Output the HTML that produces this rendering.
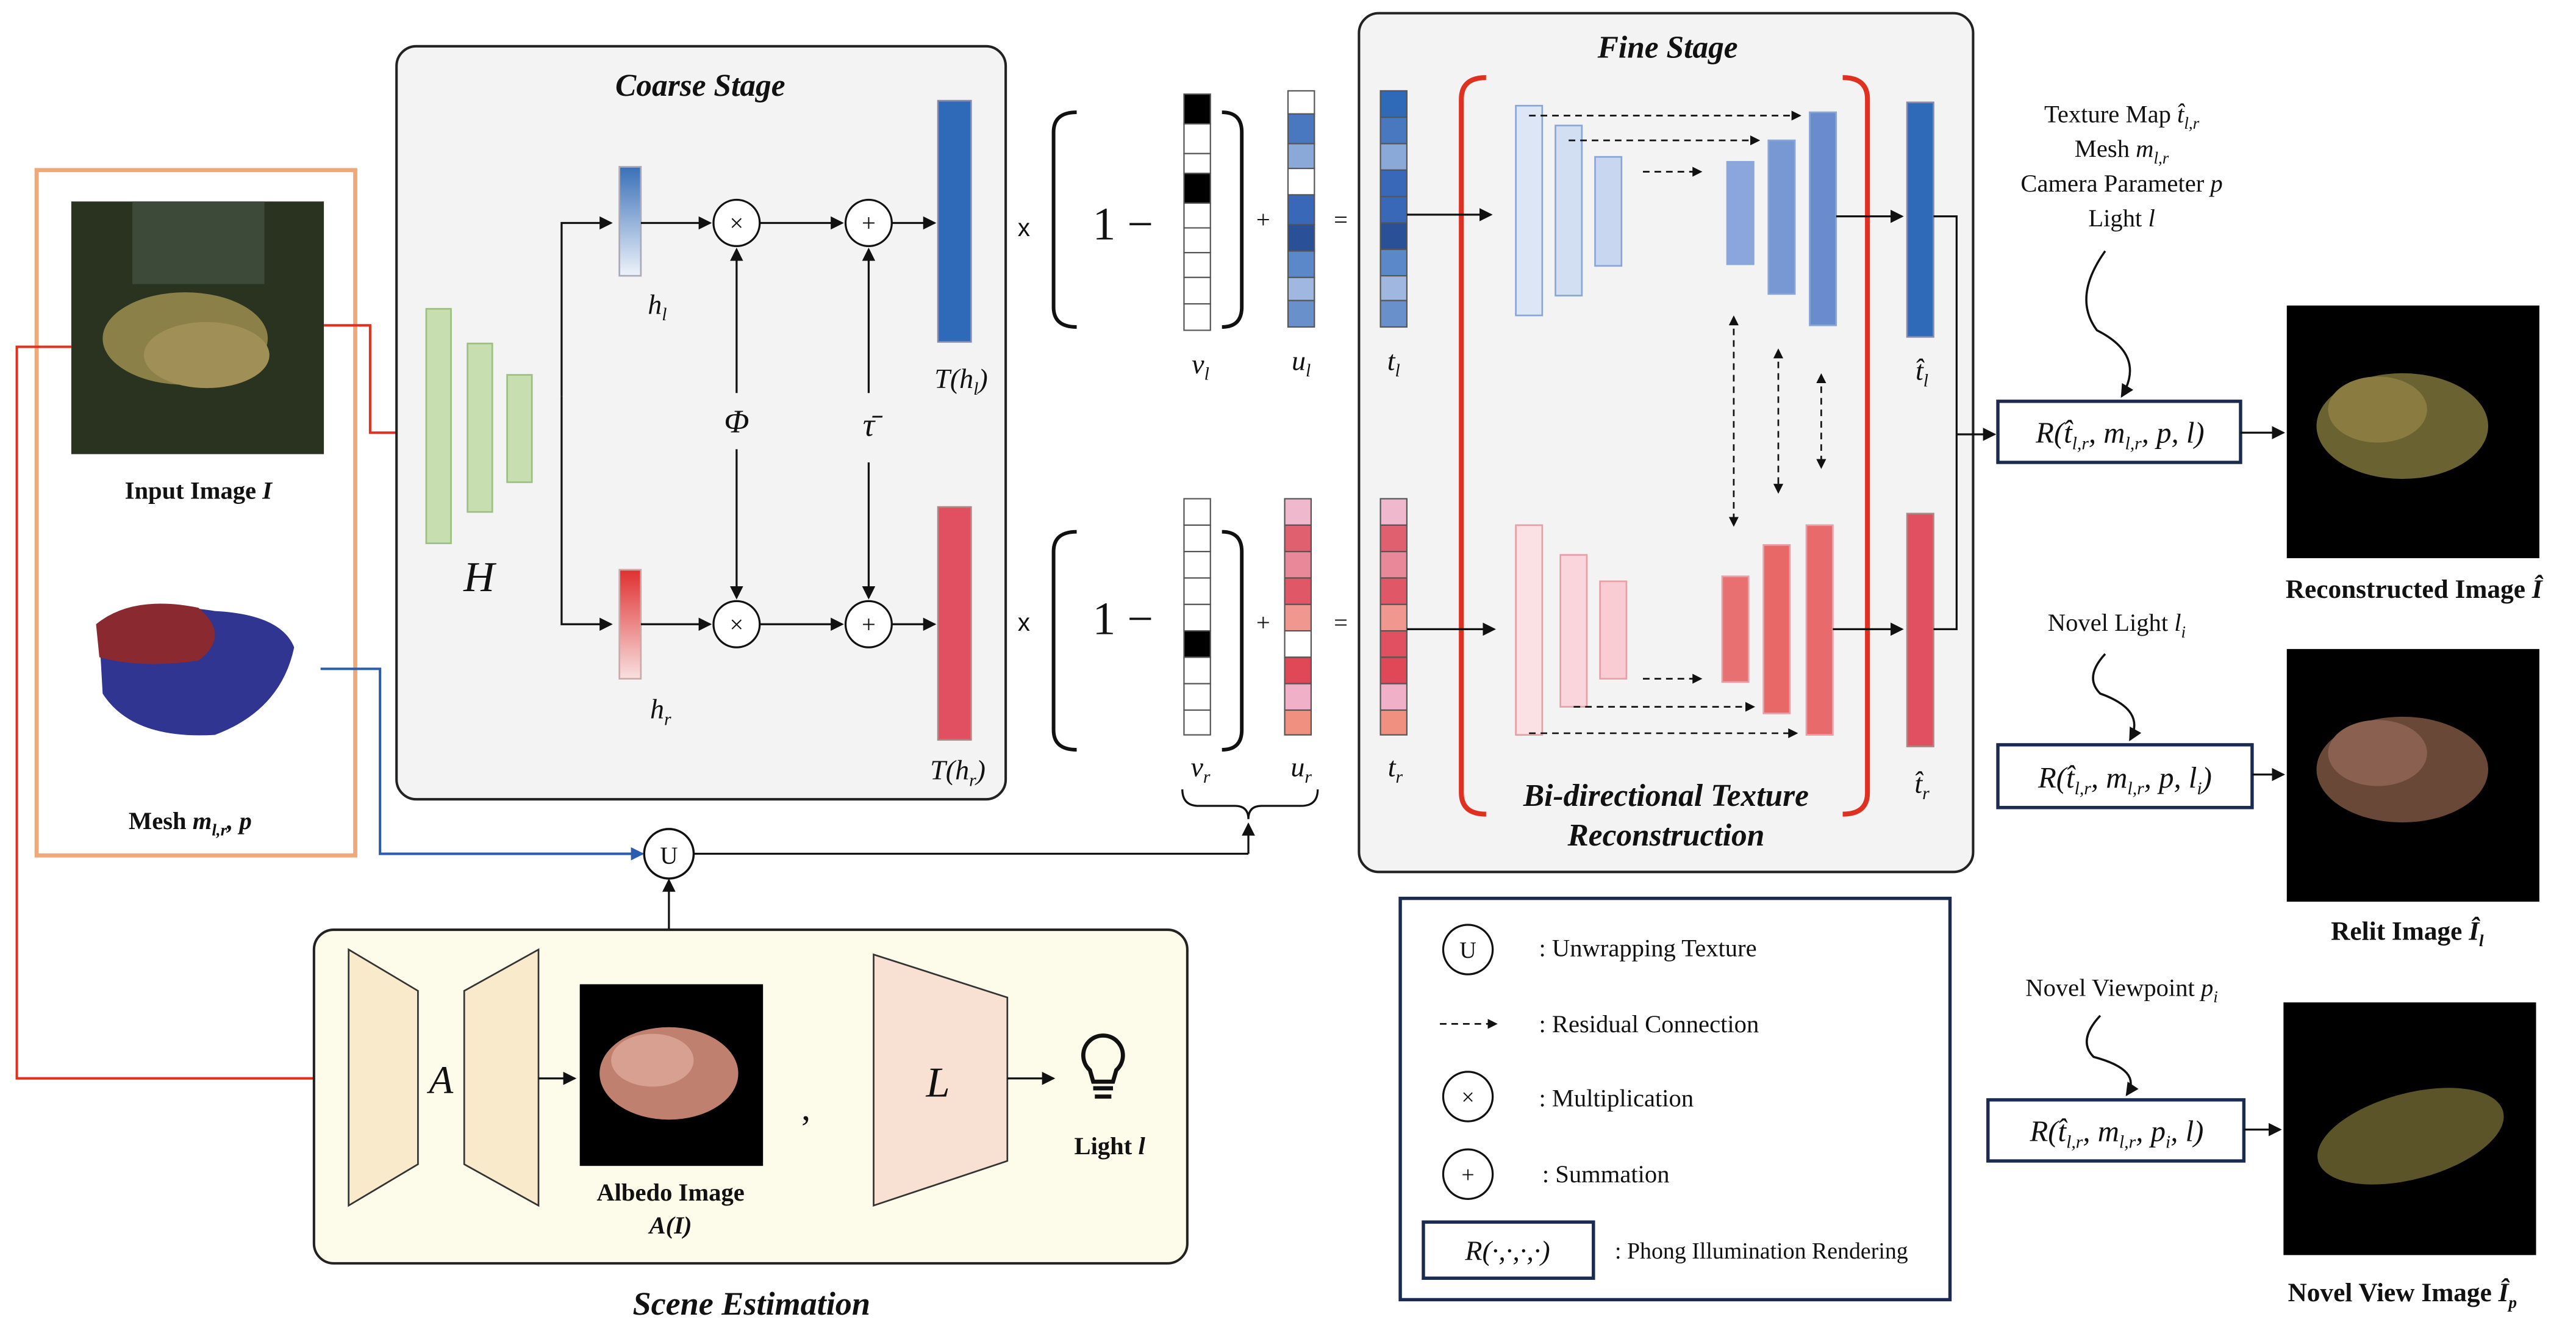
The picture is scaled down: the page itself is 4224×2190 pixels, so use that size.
<!DOCTYPE html>
<html><head><meta charset="utf-8"><style>
html,body{margin:0;padding:0;background:#fff}
svg{display:block}
text{font-family:"Liberation Serif",serif;fill:#111}
.b{font-weight:bold}
.i{font-style:italic}
</style></head><body>
<svg width="4224" height="2190" viewBox="0 0 1560 809" xmlns="http://www.w3.org/2000/svg">
<defs>
<marker id="a" markerWidth="8" markerHeight="8" refX="7" refY="4" orient="auto" markerUnits="userSpaceOnUse"><path d="M0,0 L8,4 L0,8 z" fill="#111"/></marker>
<marker id="ar" markerWidth="8" markerHeight="8" refX="7" refY="4" orient="auto" markerUnits="userSpaceOnUse"><path d="M0,0 L8,4 L0,8 z" fill="#e03020"/></marker>
<marker id="ab" markerWidth="8" markerHeight="8" refX="7" refY="4" orient="auto" markerUnits="userSpaceOnUse"><path d="M0,0 L8,4 L0,8 z" fill="#2a5cb0"/></marker>
<marker id="as" markerWidth="6" markerHeight="6" refX="5" refY="3" orient="auto" markerUnits="userSpaceOnUse"><path d="M0,0 L6,3 L0,6 z" fill="#111"/></marker>
<marker id="asb" markerWidth="6" markerHeight="6" refX="1" refY="3" orient="auto" markerUnits="userSpaceOnUse"><path d="M6,0 L0,3 L6,6 z" fill="#111"/></marker>
<linearGradient id="gb" x1="0" y1="0" x2="0" y2="1"><stop offset="0" stop-color="#3a70b8"/><stop offset="1" stop-color="#eef3fa"/></linearGradient>
<linearGradient id="gr" x1="0" y1="0" x2="0" y2="1"><stop offset="0" stop-color="#e03030"/><stop offset="1" stop-color="#f8e0e0"/></linearGradient>
</defs>

<!-- Fine stage box (drawn first) -->
<rect x="823" y="8" width="372" height="520" rx="12" fill="#f3f3f3" stroke="#222" stroke-width="1.5"/>

<!-- Orange input box -->
<rect x="22" y="103" width="193" height="415" fill="none" stroke="#f0a878" stroke-width="2.5"/>
<rect x="43" y="122" width="153" height="153" fill="#2a3220"/>
<rect x="80" y="122" width="80" height="50" fill="#3d4a3a"/>
<ellipse cx="112" cy="205" rx="50" ry="28" fill="#8a8048"/>
<ellipse cx="125" cy="215" rx="38" ry="20" fill="#a09058"/>
<text x="120" y="302" text-anchor="middle" class="b" font-size="15">Input Image <tspan class="i">I</tspan></text>
<path d="M60,385 Q80,362 130,370 Q170,372 178,392 Q170,430 130,445 Q80,448 62,420 Z" fill="#2f3590"/>
<path d="M58,378 Q80,360 120,368 Q140,385 120,400 Q85,405 60,398 Z" fill="#8a2a30"/>
<text x="115" y="502" text-anchor="middle" class="b" font-size="15">Mesh <tspan class="i">m<tspan font-size="10" dy="4">l,r</tspan><tspan dy="-4">, p</tspan></tspan></text>

<!-- red and blue connectors -->
<polyline points="196,197 224,197 224,262 256,262" fill="none" stroke="#e03020" stroke-width="1.5" marker-end="url(#ar)"/>
<polyline points="43,210 10,210 10,653 208,653" fill="none" stroke="#e03020" stroke-width="1.5" marker-end="url(#ar)"/>
<polyline points="194,405 230,405 230,517 389,517" fill="none" stroke="#2a5cb0" stroke-width="1.5" marker-end="url(#ab)"/>

<!-- Coarse stage -->
<rect x="240" y="28" width="369" height="456" rx="12" fill="#f3f3f3" stroke="#222" stroke-width="1.5"/>
<text x="424" y="58" text-anchor="middle" class="b i" font-size="19">Coarse Stage</text>
<rect x="258" y="187" width="15" height="142" fill="#c7deb0" stroke="#9dc080"/>
<rect x="283" y="208" width="15" height="102" fill="#c7deb0" stroke="#9dc080"/>
<rect x="307" y="227" width="15" height="65" fill="#c7deb0" stroke="#9dc080"/>
<text x="290" y="358" text-anchor="middle" class="i" font-size="26">H</text>
<polyline points="340,240 340,135 370,135" fill="none" stroke="#111" stroke-width="1.2" marker-end="url(#a)"/>
<polyline points="340,240 340,378 370,378" fill="none" stroke="#111" stroke-width="1.2" marker-end="url(#a)"/>
<rect x="375" y="101" width="13" height="66" fill="url(#gb)" stroke="#aab"/>
<rect x="375" y="345" width="13" height="66" fill="url(#gr)" stroke="#caa"/>
<text x="398" y="190" text-anchor="middle" class="i" font-size="17">h<tspan font-size="11" dy="4">l</tspan></text>
<text x="400" y="435" text-anchor="middle" class="i" font-size="17">h<tspan font-size="11" dy="4">r</tspan></text>
<g stroke="#111" stroke-width="1.2" fill="#fff">
<line x1="388" y1="135" x2="430" y2="135" marker-end="url(#a)"/>
<line x1="388" y1="378" x2="430" y2="378" marker-end="url(#a)"/>
<line x1="460" y1="135" x2="510" y2="135" marker-end="url(#a)"/>
<line x1="460" y1="378" x2="510" y2="378" marker-end="url(#a)"/>
<line x1="540" y1="135" x2="566" y2="135" marker-end="url(#a)"/>
<line x1="540" y1="378" x2="566" y2="378" marker-end="url(#a)"/>
<line x1="446" y1="238" x2="446" y2="151" marker-end="url(#a)"/>
<line x1="446" y1="272" x2="446" y2="362" marker-end="url(#a)"/>
<line x1="526" y1="238" x2="526" y2="151" marker-end="url(#a)"/>
<line x1="526" y1="280" x2="526" y2="362" marker-end="url(#a)"/>
<circle cx="446" cy="135" r="14"/><circle cx="526" cy="135" r="14"/>
<circle cx="446" cy="378" r="14"/><circle cx="526" cy="378" r="14"/>
</g>
<g font-size="15" text-anchor="middle"><text x="446" y="140">×</text><text x="526" y="140">+</text><text x="446" y="383">×</text><text x="526" y="383">+</text></g>
<text x="446" y="262" text-anchor="middle" class="i" font-size="20">Φ</text>
<text x="526" y="264" text-anchor="middle" class="i" font-size="20">τ̄</text>
<rect x="568" y="61" width="20" height="146" fill="#2f6ab8" stroke="#88a"/>
<rect x="568" y="307" width="20" height="141" fill="#e05060" stroke="#a88"/>
<text x="582" y="235" text-anchor="middle" class="i" font-size="17">T(h<tspan font-size="11" dy="4">l</tspan><tspan dy="-4">)</tspan></text>
<text x="580" y="472" text-anchor="middle" class="i" font-size="17">T(h<tspan font-size="11" dy="4">r</tspan><tspan dy="-4">)</tspan></text>

<!-- equation -->
<text x="620" y="143" font-size="15" text-anchor="middle" style="font-family:'Liberation Sans'">x</text>
<text x="620" y="382" font-size="15" text-anchor="middle" style="font-family:'Liberation Sans'">x</text>
<path d="M652,68 Q638,68 638,80 L638,186 Q638,198 652,198" fill="none" stroke="#111" stroke-width="2.2"/>
<path d="M740,68 Q752,68 752,80 L752,186 Q752,198 740,198" fill="none" stroke="#111" stroke-width="2.2"/>
<path d="M652,322 Q638,322 638,334 L638,442 Q638,454 652,454" fill="none" stroke="#111" stroke-width="2.2"/>
<path d="M740,322 Q752,322 752,334 L752,442 Q752,454 740,454" fill="none" stroke="#111" stroke-width="2.2"/>
<text x="680" y="145" font-size="28" text-anchor="middle">1 −</text>
<text x="680" y="384" font-size="28" text-anchor="middle">1 −</text>
<text x="765" y="138" font-size="15" text-anchor="middle">+</text>
<text x="765" y="382" font-size="15" text-anchor="middle">+</text>
<text x="812" y="138" font-size="15" text-anchor="middle">=</text>
<text x="812" y="382" font-size="15" text-anchor="middle">=</text>

<g stroke="#555" stroke-width="0.8">
<rect x="717" y="57" width="16" height="18" fill="#000"/><rect x="717" y="75" width="16" height="18" fill="#fff"/><rect x="717" y="93" width="16" height="12" fill="#fff"/><rect x="717" y="105" width="16" height="18" fill="#000"/><rect x="717" y="123" width="16" height="15" fill="#fff"/><rect x="717" y="138" width="16" height="15" fill="#fff"/><rect x="717" y="153" width="16" height="15" fill="#fff"/><rect x="717" y="168" width="16" height="16" fill="#fff"/><rect x="717" y="184" width="16" height="16" fill="#fff"/>
<rect x="780" y="55" width="16" height="14" fill="#fff"/><rect x="780" y="69" width="16" height="18" fill="#4a78c0"/><rect x="780" y="87" width="16" height="15" fill="#8aa8d8"/><rect x="780" y="102" width="16" height="16" fill="#fff"/><rect x="780" y="118" width="16" height="18" fill="#3a68b8"/><rect x="780" y="136" width="16" height="16" fill="#2a5098"/><rect x="780" y="152" width="16" height="16" fill="#5a88c8"/><rect x="780" y="168" width="16" height="14" fill="#a0b8e0"/><rect x="780" y="182" width="16" height="16" fill="#6a90cc"/>
<rect x="836" y="55" width="16" height="16" fill="#2f6ab8"/><rect x="836" y="71" width="16" height="16" fill="#4a78c0"/><rect x="836" y="87" width="16" height="16" fill="#8aa8d8"/><rect x="836" y="103" width="16" height="16" fill="#3a68b8"/><rect x="836" y="119" width="16" height="16" fill="#3a68b8"/><rect x="836" y="135" width="16" height="16" fill="#2a5098"/><rect x="836" y="151" width="16" height="16" fill="#5a88c8"/><rect x="836" y="167" width="16" height="15" fill="#a0b8e0"/><rect x="836" y="182" width="16" height="16" fill="#6a90cc"/>
<rect x="717" y="302" width="16" height="16" fill="#fff"/><rect x="717" y="318" width="16" height="16" fill="#fff"/><rect x="717" y="334" width="16" height="16" fill="#fff"/><rect x="717" y="350" width="16" height="16" fill="#fff"/><rect x="717" y="366" width="16" height="16" fill="#fff"/><rect x="717" y="382" width="16" height="16" fill="#000"/><rect x="717" y="398" width="16" height="16" fill="#fff"/><rect x="717" y="414" width="16" height="16" fill="#fff"/><rect x="717" y="430" width="16" height="15" fill="#fff"/>
<rect x="778" y="302" width="16" height="16" fill="#f0b8cc"/><rect x="778" y="318" width="16" height="16" fill="#e06070"/><rect x="778" y="334" width="16" height="16" fill="#e88898"/><rect x="778" y="350" width="16" height="16" fill="#e05868"/><rect x="778" y="366" width="16" height="16" fill="#f09890"/><rect x="778" y="382" width="16" height="16" fill="#fff"/><rect x="778" y="398" width="16" height="16" fill="#e04858"/><rect x="778" y="414" width="16" height="16" fill="#f0b0c8"/><rect x="778" y="430" width="16" height="15" fill="#f09080"/>
<rect x="836" y="302" width="16" height="16" fill="#f0b8cc"/><rect x="836" y="318" width="16" height="16" fill="#e06070"/><rect x="836" y="334" width="16" height="16" fill="#e88898"/><rect x="836" y="350" width="16" height="16" fill="#e05868"/><rect x="836" y="366" width="16" height="16" fill="#f09890"/><rect x="836" y="382" width="16" height="16" fill="#e05060"/><rect x="836" y="398" width="16" height="16" fill="#e04858"/><rect x="836" y="414" width="16" height="16" fill="#f0b0c8"/><rect x="836" y="430" width="16" height="15" fill="#f09080"/>
</g>
<text x="727" y="226" text-anchor="middle" class="i" font-size="17">v<tspan font-size="11" dy="4">l</tspan></text>
<text x="788" y="224" text-anchor="middle" class="i" font-size="17">u<tspan font-size="11" dy="4">l</tspan></text>
<text x="844" y="224" text-anchor="middle" class="i" font-size="17">t<tspan font-size="11" dy="4">l</tspan></text>
<text x="727" y="470" text-anchor="middle" class="i" font-size="17">v<tspan font-size="11" dy="4">r</tspan></text>
<text x="788" y="470" text-anchor="middle" class="i" font-size="17">u<tspan font-size="11" dy="4">r</tspan></text>
<text x="845" y="470" text-anchor="middle" class="i" font-size="17">t<tspan font-size="11" dy="4">r</tspan></text>
<path d="M716,478 Q716,488 726,488 L748,488 Q756,488 756,496 Q756,488 764,488 L788,488 Q798,488 798,478" fill="none" stroke="#111" stroke-width="1.2"/>

<!-- U circle -->
<line x1="419" y1="517" x2="756" y2="517" stroke="#111" stroke-width="1.2"/>
<line x1="756" y1="517" x2="756" y2="499" stroke="#111" stroke-width="1.2" marker-end="url(#a)"/>
<line x1="405" y1="596" x2="405" y2="533" stroke="#111" stroke-width="1.2" marker-end="url(#a)"/>
<circle cx="405" cy="517" r="15" fill="#fff" stroke="#111" stroke-width="1.3"/>
<text x="405" y="523" text-anchor="middle" font-size="15">U</text>

<!-- Fine stage content -->
<text x="1010" y="35" text-anchor="middle" class="b i" font-size="19">Fine Stage</text>
<path d="M900,47 Q885,47 885,60 L885,480 Q885,493 900,493" fill="none" stroke="#e03020" stroke-width="3"/>
<path d="M1116,47 Q1131,47 1131,60 L1131,480 Q1131,493 1116,493" fill="none" stroke="#e03020" stroke-width="3"/>
<line x1="852" y1="130" x2="903" y2="130" stroke="#111" stroke-width="1.2" marker-end="url(#a)"/>
<line x1="852" y1="381" x2="905" y2="381" stroke="#111" stroke-width="1.2" marker-end="url(#a)"/>
<g stroke="#8aa6d8" stroke-width="1">
<rect x="918" y="64" width="16" height="127" fill="#dde6f5"/>
<rect x="942" y="76" width="16" height="103" fill="#d2def2"/>
<rect x="966" y="95" width="16" height="66" fill="#c8d6ef"/>
<rect x="1046" y="98" width="16" height="62" fill="#8aa6dc"/>
<rect x="1071" y="85" width="16" height="93" fill="#7898d4"/>
<rect x="1096" y="68" width="16" height="129" fill="#6a8ccc"/>
</g>
<g stroke="#e8a0a8" stroke-width="1">
<rect x="918" y="318" width="16" height="127" fill="#fbe0e4"/>
<rect x="945" y="336" width="16" height="92" fill="#fad6dc"/>
<rect x="969" y="352" width="16" height="59" fill="#f8ccd2"/>
<rect x="1043" y="349" width="16" height="64" fill="#e87070"/>
<rect x="1068" y="330" width="16" height="102" fill="#e86868"/>
<rect x="1094" y="318" width="16" height="127" fill="#e86a6a"/>
</g>
<g stroke="#111" stroke-width="1" stroke-dasharray="4,3" fill="none">
<line x1="926" y1="70" x2="1090" y2="70" marker-end="url(#as)"/>
<line x1="950" y1="85" x2="1065" y2="85" marker-end="url(#as)"/>
<line x1="995" y1="104" x2="1030" y2="104" marker-end="url(#as)"/>
<line x1="995" y1="411" x2="1030" y2="411" marker-end="url(#as)"/>
<line x1="953" y1="428" x2="1062" y2="428" marker-end="url(#as)"/>
<line x1="926" y1="444" x2="1088" y2="444" marker-end="url(#as)"/>
<line x1="1050" y1="192" x2="1050" y2="318" marker-end="url(#as)" marker-start="url(#asb)"/>
<line x1="1077" y1="212" x2="1077" y2="298" marker-end="url(#as)" marker-start="url(#asb)"/>
<line x1="1103" y1="227" x2="1103" y2="283" marker-end="url(#as)" marker-start="url(#asb)"/>
</g>
<text x="1009" y="488" text-anchor="middle" class="b i" font-size="19">Bi-directional Texture</text>
<text x="1009" y="512" text-anchor="middle" class="b i" font-size="19">Reconstruction</text>
<line x1="1112" y1="131" x2="1152" y2="131" stroke="#111" stroke-width="1.2" marker-end="url(#a)"/>
<line x1="1110" y1="381" x2="1152" y2="381" stroke="#111" stroke-width="1.2" marker-end="url(#a)"/>
<rect x="1155" y="62" width="16" height="142" fill="#2f6ab8" stroke="#88a"/>
<rect x="1155" y="311" width="16" height="141" fill="#e05060" stroke="#a88"/>
<text x="1164" y="230" text-anchor="middle" class="i" font-size="17">t̂<tspan font-size="11" dy="4">l</tspan></text>
<text x="1164" y="480" text-anchor="middle" class="i" font-size="17">t̂<tspan font-size="11" dy="4">r</tspan></text>
<polyline points="1171,131 1185,131 1185,381 1171,381" fill="none" stroke="#111" stroke-width="1.2"/>
<line x1="1185" y1="263" x2="1208" y2="263" stroke="#111" stroke-width="1.2" marker-end="url(#a)"/>

<!-- Right column -->
<g font-size="15" text-anchor="middle">
<text x="1285" y="74">Texture Map <tspan class="i">t̂<tspan font-size="10" dy="4">l,r</tspan></tspan></text>
<text x="1285" y="95">Mesh <tspan class="i">m<tspan font-size="10" dy="4">l,r</tspan></tspan></text>
<text x="1285" y="116">Camera Parameter <tspan class="i">p</tspan></text>
<text x="1285" y="137">Light <tspan class="i">l</tspan></text>
<text x="1282" y="382">Novel Light <tspan class="i">l<tspan font-size="10" dy="4">i</tspan></tspan></text>
<text x="1285" y="603">Novel Viewpoint <tspan class="i">p<tspan font-size="10" dy="4">i</tspan></tspan></text>
</g>
<g fill="none" stroke="#111" stroke-width="1.3">
<path d="M1275,152 Q1255,180 1270,200 Q1300,215 1285,240" marker-end="url(#a)"/>
<path d="M1275,396 Q1262,410 1272,420 Q1300,430 1290,448" marker-end="url(#a)"/>
<path d="M1272,615 Q1258,630 1268,640 Q1298,648 1288,663" marker-end="url(#a)"/>
</g>
<g fill="#fff" stroke="#1a2a50" stroke-width="2">
<rect x="1210" y="243" width="147" height="37"/>
<rect x="1210" y="451" width="154" height="38"/>
<rect x="1204" y="666" width="155" height="37"/>
</g>
<g class="i" font-size="18" text-anchor="middle">
<text x="1284" y="268">R(t̂<tspan font-size="11" dy="4">l,r</tspan><tspan dy="-4">, m</tspan><tspan font-size="11" dy="4">l,r</tspan><tspan dy="-4">, p, l)</tspan></text>
<text x="1287" y="477">R(t̂<tspan font-size="11" dy="4">l,r</tspan><tspan dy="-4">, m</tspan><tspan font-size="11" dy="4">l,r</tspan><tspan dy="-4">, p, l</tspan><tspan font-size="11" dy="4">i</tspan><tspan dy="-4">)</tspan></text>
<text x="1282" y="691">R(t̂<tspan font-size="11" dy="4">l,r</tspan><tspan dy="-4">, m</tspan><tspan font-size="11" dy="4">l,r</tspan><tspan dy="-4">, p</tspan><tspan font-size="11" dy="4">i</tspan><tspan dy="-4">, l)</tspan></text>
</g>
<line x1="1357" y1="262" x2="1383" y2="262" stroke="#111" stroke-width="1.2" marker-end="url(#a)"/>
<line x1="1364" y1="469" x2="1383" y2="469" stroke="#111" stroke-width="1.2" marker-end="url(#a)"/>
<line x1="1359" y1="684" x2="1381" y2="684" stroke="#111" stroke-width="1.2" marker-end="url(#a)"/>
<rect x="1385" y="185" width="153" height="153" fill="#000"/>
<ellipse cx="1455" cy="258" rx="52" ry="32" fill="#6a6230"/><ellipse cx="1440" cy="248" rx="30" ry="20" fill="#8a7c40"/>
<rect x="1385" y="393" width="153" height="153" fill="#000"/>
<ellipse cx="1455" cy="466" rx="52" ry="32" fill="#6a4838"/><ellipse cx="1440" cy="456" rx="30" ry="20" fill="#8a6050"/>
<rect x="1383" y="607" width="153" height="153" fill="#000"/>
<ellipse cx="1460" cy="688" rx="58" ry="26" fill="#5a5428" transform="rotate(-15 1460 688)"/>
<g class="b" font-size="16" text-anchor="middle">
<text x="1462" y="362">Reconstructed  Image <tspan class="i">Î</tspan></text>
<text x="1458" y="569">Relit  Image <tspan class="i">Î<tspan font-size="10" dy="4">l</tspan></tspan></text>
<text x="1455" y="788">Novel View Image <tspan class="i">Î<tspan font-size="10" dy="4">p</tspan></tspan></text>
</g>

<!-- Legend -->
<rect x="848" y="544" width="333" height="243" fill="#fff" stroke="#1a2a50" stroke-width="2"/>
<g fill="#fff" stroke="#111" stroke-width="1.2">
<circle cx="889" cy="575" r="15"/><circle cx="889" cy="664" r="15"/><circle cx="889" cy="711" r="15"/>
</g>
<g font-size="14" text-anchor="middle"><text x="889" y="580">U</text><text x="889" y="669">×</text><text x="889" y="716">+</text></g>
<line x1="872" y1="620" x2="906" y2="620" stroke="#111" stroke-dasharray="4,3" marker-end="url(#as)"/>
<rect x="862" y="740" width="103" height="34" fill="#fff" stroke="#1a2a50" stroke-width="2"/>
<text x="913" y="763" text-anchor="middle" class="i" font-size="17">R(·,·,·,·)</text>
<g font-size="15">
<text x="932" y="579">: Unwrapping Texture</text>
<text x="932" y="625">: Residual Connection</text>
<text x="932" y="670">: Multiplication</text>
<text x="934" y="716">: Summation</text>
<text x="978" y="762" font-size="14">: Phong Illumination Rendering</text>
</g>

<!-- Scene estimation -->
<rect x="190" y="563" width="529" height="202" rx="12" fill="#fdfbea" stroke="#222" stroke-width="1.5"/>
<polygon points="211,575 253,600 253,705 211,730" fill="#faeacc" stroke="#333"/>
<polygon points="326,575 281,600 281,705 326,730" fill="#faeacc" stroke="#333"/>
<text x="267" y="662" text-anchor="middle" class="i" font-size="24">A</text>
<line x1="326" y1="653" x2="348" y2="653" stroke="#111" stroke-width="1.2" marker-end="url(#a)"/>
<rect x="351" y="596" width="111" height="110" fill="#000"/>
<ellipse cx="405" cy="650" rx="42" ry="28" fill="#c08070"/><ellipse cx="395" cy="642" rx="25" ry="16" fill="#d8a090"/>
<text x="406" y="727" text-anchor="middle" class="b" font-size="15">Albedo Image</text>
<text x="406" y="747" text-anchor="middle" class="b i" font-size="15">A(I)</text>
<text x="488" y="678" text-anchor="middle" font-size="22">,</text>
<polygon points="529,578 610,604 610,703 529,730" fill="#f8e0d2" stroke="#333"/>
<text x="568" y="664" text-anchor="middle" class="i" font-size="26">L</text>
<line x1="610" y1="653" x2="638" y2="653" stroke="#111" stroke-width="1.2" marker-end="url(#a)"/>
<path d="M660,648 A12,12 0 1 1 676,648 L674,655 L662,655 Z" fill="none" stroke="#111" stroke-width="2.5"/>
<line x1="662" y1="659" x2="674" y2="659" stroke="#111" stroke-width="2.5"/>
<line x1="663" y1="664" x2="673" y2="664" stroke="#111" stroke-width="2.5"/>
<text x="672" y="699" text-anchor="middle" class="b" font-size="15">Light <tspan class="i">l</tspan></text>
<text x="455" y="796" text-anchor="middle" class="b i" font-size="20">Scene Estimation</text>
</svg>
</body></html>
